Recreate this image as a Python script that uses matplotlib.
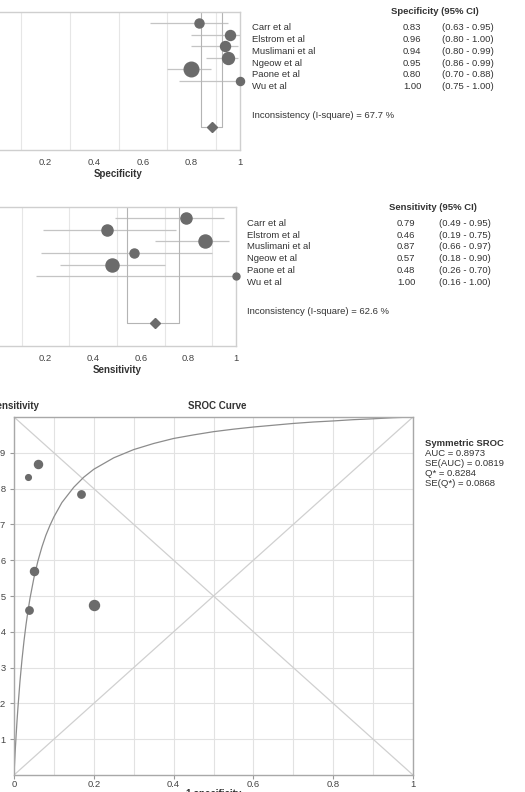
import numpy as np
import matplotlib
matplotlib.use("Agg")
import matplotlib.pyplot as plt

plt.rcParams['font.family'] = ['Liberation Sans', 'DejaVu Sans']

# Study data
studies = ["Carr et al", "Elstrom et al", "Muslimani et al", "Ngeow et al", "Paone et al", "Wu et al"]

spec = [0.83, 0.96, 0.94, 0.95, 0.80, 1.00]
spec_lo = [0.63, 0.80, 0.80, 0.86, 0.70, 0.75]
spec_hi = [0.95, 1.00, 0.99, 0.99, 0.88, 1.00]
spec_w = [6.5, 7.2, 7.2, 8.6, 10.5, 5.8]
spec_pooled, spec_pooled_lo, spec_pooled_hi = 0.885, 0.84, 0.925
spec_i2 = 67.7

sens = [0.79, 0.46, 0.87, 0.57, 0.48, 1.00]
sens_lo = [0.49, 0.19, 0.66, 0.18, 0.26, 0.16]
sens_hi = [0.95, 0.75, 0.97, 0.90, 0.70, 1.00]
sens_w = [8.0, 8.0, 9.4, 6.5, 9.4, 5.0]
sens_pooled, sens_pooled_lo, sens_pooled_hi = 0.66, 0.54, 0.76
sens_i2 = 62.6

# SROC points (1-specificity, sensitivity), continuity corrected
sroc_fpr = [0.168, 0.038, 0.06, 0.05, 0.20, 0.036]
sroc_tpr = [0.785, 0.46, 0.87, 0.57, 0.475, 0.833]
sroc_w = [5.3, 5.3, 5.8, 5.8, 7.2, 4.1]

# SROC curve
curve_fpr = [0, 0.001, 0.002, 0.0035, 0.005, 0.0075, 0.01, 0.015, 0.02, 0.025, 0.03,
             0.035, 0.04, 0.05, 0.06, 0.07, 0.08, 0.09, 0.1, 0.12, 0.15, 0.175,
             0.2, 0.25, 0.3, 0.35, 0.4, 0.45, 0.5, 0.55, 0.6, 0.65, 0.7, 0.75,
             0.8, 0.85, 0.9, 0.95, 1.0]
curve_tpr = [0, 0.023, 0.045, 0.076, 0.105, 0.15, 0.19, 0.262, 0.322, 0.374, 0.419,
             0.458, 0.493, 0.551, 0.598, 0.637, 0.67, 0.697, 0.721, 0.761, 0.804, 0.832,
             0.854, 0.886, 0.909, 0.926, 0.94, 0.95, 0.959, 0.966, 0.972, 0.977, 0.982, 0.986,
             0.989, 0.9925, 0.995, 0.998, 1.0]
sroc_stats = ["AUC = 0.8973", "SE(AUC) = 0.0819", "Q* = 0.8284", "SE(Q*) = 0.0868"]

W, H = 525, 792
fig = plt.figure(figsize=(W / 100, H / 100), dpi=100)


def rect(x0, y0, x1, y1):
    return [x0 / W, 1 - y1 / H, (x1 - x0) / W, (y1 - y0) / H]


def ftext(x, y, s, **kw):
    kw.setdefault("va", "center")
    kw.setdefault("fontsize", 6.8)
    kw.setdefault("color", "#333333")
    fig.text(x / W, 1 - y / H, s, **kw)


dot = "#6b6b6b"
ci_col = "#c4c4c4"


def forest(box, est, lo, hi, w, pooled, plo, phi, xlabel):
    ax = fig.add_axes(rect(*box))
    rows = np.arange(len(est))
    ax.hlines(rows, lo, hi, color=ci_col, lw=0.9, zorder=2)
    for r, e, s in zip(rows, est, w):
        ax.plot(e, r, "o", ms=s, color=dot, mec=dot, zorder=3, clip_on=False)
    # pooled bracket and diamond
    ax.plot([plo, plo, phi, phi], [-1.2, 9, 9, -1.2], color="#b4b4b4", lw=0.8, zorder=2)
    ax.plot(pooled, 9, "D", ms=5.5, color=dot, zorder=3)
    ax.set_xlim(0, 1)
    ax.set_ylim(10.95, -0.95)
    ax.set_yticks([])
    ax.set_xticks(np.arange(0, 1.01, 0.1), minor=True)
    ax.set_xticks([0.2, 0.4, 0.6, 0.8, 1.0])
    ax.set_xticklabels(["0.2", "0.4", "0.6", "0.8", "1"], fontsize=6.8, color="#444444")
    ax.tick_params(axis="x", which="both", length=0, pad=6)
    ax.grid(axis="x", which="minor", color="#e6e6e6", lw=0.8)
    ax.set_axisbelow(True)
    for sp in ax.spines.values():
        sp.set_color("#cfcfcf")
        sp.set_linewidth(1.0)
    ax.set_xlabel(xlabel, fontsize=7, fontweight="bold", color="#333333", labelpad=1.5)
    return ax


# Specificity forest plot
forest((-3, 12, 240, 150), spec, spec_lo, spec_hi, spec_w,
       spec_pooled, spec_pooled_lo, spec_pooled_hi, "Specificity")
ftext(435, 12, "Specificity (95% CI)", ha="center", fontweight="bold")
for i, name in enumerate(studies):
    y = 27.7 + i * 11.8
    ftext(252, y, name)
    ftext(403, y, f"{spec[i]:.2f}")
    ftext(442, y, f"({spec_lo[i]:.2f} - {spec_hi[i]:.2f})")
ftext(252, 116, f"Inconsistency (I-square) = {spec_i2} %")

# Sensitivity forest plot
forest((-2, 207, 236, 346), sens, sens_lo, sens_hi, sens_w,
       sens_pooled, sens_pooled_lo, sens_pooled_hi, "Sensitivity")
ftext(433, 207, "Sensitivity (95% CI)", ha="center", fontweight="bold")
for i, name in enumerate(studies):
    y = 223.3 + i * 11.75
    ftext(247, y, name)
    ftext(397, y, f"{sens[i]:.2f}")
    ftext(439, y, f"({sens_lo[i]:.2f} - {sens_hi[i]:.2f})")
ftext(247, 311.7, f"Inconsistency (I-square) = {sens_i2} %")

# SROC curve
ax = fig.add_axes(rect(14, 417, 413, 775))
ax.plot([0, 1], [0, 1], color="#d0d0d0", lw=0.9, zorder=1)
ax.plot([0, 1], [1, 0], color="#d0d0d0", lw=0.9, zorder=1)
ax.plot(curve_fpr, curve_tpr, color="#8c8c8c", lw=0.9, zorder=2)
for x, y, s in zip(sroc_fpr, sroc_tpr, sroc_w):
    ax.plot(x, y, "o", ms=s, color=dot, zorder=3)
ax.set_xlim(0, 1)
ax.set_ylim(0, 1)
ax.set_xticks([0, 0.2, 0.4, 0.6, 0.8, 1.0])
ax.set_xticklabels(["0", "0.2", "0.4", "0.6", "0.8", "1"], fontsize=6.8, color="#444444")
ax.set_xticks(np.arange(0, 1.01, 0.1), minor=True)
ax.set_yticks(np.arange(0.1, 0.95, 0.1))
ax.set_yticklabels([f"{v:.1f}" for v in np.arange(0.1, 0.95, 0.1)], fontsize=6.8, color="#444444")
ax.tick_params(axis="both", length=3, color="#999999", pad=2.5)
ax.tick_params(axis="x", pad=0.5)
ax.tick_params(axis="x", which="minor", length=0)
ax.grid(which="both", color="#e2e2e2", lw=0.8)
ax.set_axisbelow(True)
for sp in ax.spines.values():
    sp.set_color("#a8a8a8")
    sp.set_linewidth(1.0)
ax.set_xlabel("1-specificity", fontsize=7, fontweight="bold", color="#333333", labelpad=0)
ftext(217, 406, "SROC Curve", ha="center", fontweight="bold", fontsize=7)
ftext(40, 406, "Sensitivity", ha="right", fontweight="bold", fontsize=7)
ftext(425, 443, "Symmetric SROC", fontweight="bold")
for i, s in enumerate(sroc_stats):
    ftext(425, 453 + i * 10.2, s)

fig.savefig("out.png", dpi=100)
